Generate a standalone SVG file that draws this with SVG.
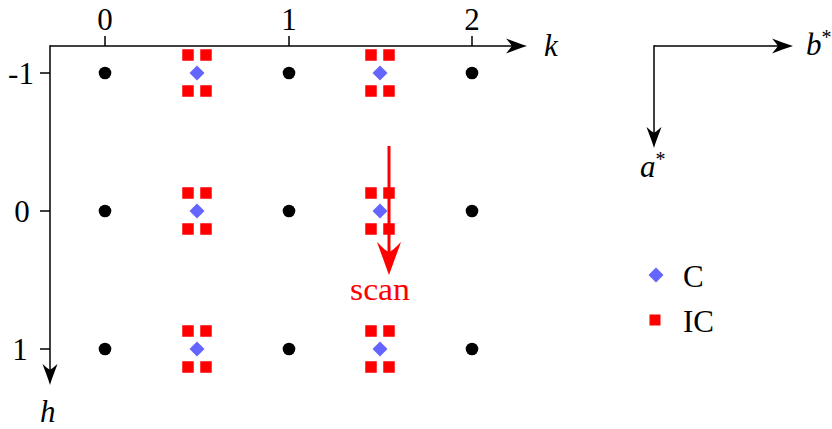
<svg xmlns="http://www.w3.org/2000/svg" xmlns:xlink="http://www.w3.org/1999/xlink" width="832" height="429" viewBox="0 0 832 429">
<style>
.ax{stroke:#000;stroke-width:1.5;fill:none}
.t{font-family:'Liberation Serif','Times New Roman',serif;font-size:31px;fill:#000}
.it{font-style:italic}
.dot{fill:#000}
.ic{fill:#ff0000}
.c{fill:#6464ff}
</style>
<defs>
<path id="ah" d="M0,0 C-7,-2 -14,-5 -21,-7.5 C-17,-3 -16,-1 -15,0 C-16,1 -17,3 -21,7.5 C-14,5 -7,2 0,0 Z" fill="#000"/>
<path id="rah" d="M0,0 C-7,-2.5 -19,-7 -33,-12 C-27,-6 -24,-3 -23,0 C-24,3 -27,6 -33,12 C-19,7 -7,2.5 0,0 Z" fill="#ff0000"/>
<rect id="sq" x="-5.75" y="-5.75" width="11.5" height="11.5" class="ic"/>
<path id="dm" d="M0,-7.5 L7.5,0 L0,7.5 L-7.5,0 Z" class="c"/>
<g id="cl">
<use xlink:href="#sq" x="-9" y="-18"/>
<use xlink:href="#sq" x="9" y="-18"/>
<use xlink:href="#sq" x="-9" y="18"/>
<use xlink:href="#sq" x="9" y="18"/>
<use xlink:href="#dm"/>
</g>
</defs>
<g id="connectors">
<line class="ax" x1="50" y1="46" x2="514" y2="46"/>
<use xlink:href="#ah" transform="translate(527,46)"/>
<line class="ax" x1="50" y1="45.25" x2="50" y2="372"/>
<use xlink:href="#ah" transform="translate(50,385) rotate(90)"/>
<line class="ax" x1="105" y1="36" x2="105" y2="46"/>
<line class="ax" x1="289" y1="36" x2="289" y2="46"/>
<line class="ax" x1="472" y1="36" x2="472" y2="46"/>
<line class="ax" x1="40" y1="73" x2="50" y2="73"/>
<line class="ax" x1="40" y1="211" x2="50" y2="211"/>
<line class="ax" x1="40" y1="349" x2="50" y2="349"/>
<line class="ax" x1="654" y1="46" x2="780" y2="46"/>
<use xlink:href="#ah" transform="translate(793,46)"/>
<line class="ax" x1="654" y1="45.25" x2="654" y2="135"/>
<use xlink:href="#ah" transform="translate(654,148) rotate(90)"/>
</g>
<g id="axis-labels">
<text class="t" x="105" y="30" text-anchor="middle">0</text>
<text class="t" x="289" y="30" text-anchor="middle">1</text>
<text class="t" x="472" y="30" text-anchor="middle">2</text>
<text class="t" x="21" y="84" text-anchor="middle">-1</text>
<text class="t" x="22" y="222" text-anchor="middle">0</text>
<text class="t" x="20" y="360" text-anchor="middle">1</text>
<text class="t it" x="544" y="56">k</text>
<text class="t it" x="40" y="422">h</text>
<text class="t it" x="806" y="55">b<tspan font-size="20" font-style="normal" dy="-11">*</tspan></text>
<text class="t it" x="640" y="177">a<tspan font-size="20" font-style="normal" dy="-11">*</tspan></text>
</g>
<g id="bragg-peaks">
<circle class="dot" cx="105" cy="73" r="6.3"/>
<circle class="dot" cx="289" cy="73" r="6.3"/>
<circle class="dot" cx="472" cy="73" r="6.3"/>
<circle class="dot" cx="105" cy="211" r="6.3"/>
<circle class="dot" cx="289" cy="211" r="6.3"/>
<circle class="dot" cx="472" cy="211" r="6.3"/>
<circle class="dot" cx="105" cy="349" r="6.3"/>
<circle class="dot" cx="289" cy="349" r="6.3"/>
<circle class="dot" cx="472" cy="349" r="6.3"/>
</g>
<g id="clusters">
<use xlink:href="#cl" x="197" y="73"/>
<use xlink:href="#cl" x="380" y="73"/>
<use xlink:href="#cl" x="197" y="211"/>
<use xlink:href="#cl" x="380" y="211"/>
<use xlink:href="#cl" x="197" y="349"/>
<use xlink:href="#cl" x="380" y="349"/>
</g>
<g id="scan">
<line x1="389" y1="146" x2="389" y2="255" stroke="#ff0000" stroke-width="3"/>
<use xlink:href="#rah" transform="translate(389,275) rotate(90)"/>
<text class="t" x="380" y="300" text-anchor="middle" style="fill:#ff0000" textLength="60" lengthAdjust="spacingAndGlyphs">scan</text>
</g>
<g id="legend">
<use xlink:href="#dm" x="656" y="275"/>
<text class="t" x="683" y="287">C</text>
<rect x="649.5" y="314.5" width="11" height="11" class="ic"/>
<text class="t" x="683" y="332">IC</text>
</g>
</svg>
